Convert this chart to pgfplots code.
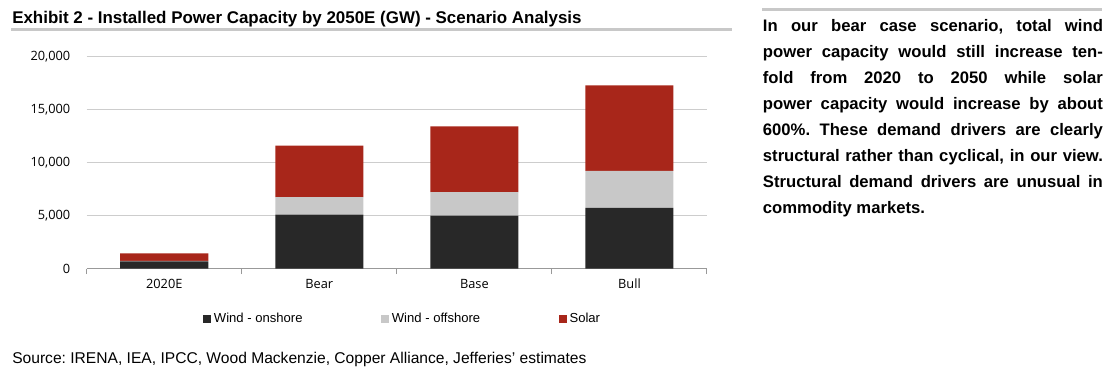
\documentclass[border=0pt]{standalone}
\usepackage{pgfplots}
\pgfplotsset{compat=1.18}
\usepackage{fontspec}
\setmainfont{Liberation Sans}
\newfontfamily\tickfont{Open Sans}
\definecolor{onshore}{RGB}{40,40,40}
\definecolor{offshore}{RGB}{200,200,200}
\definecolor{solar}{RGB}{168,38,26}
\definecolor{rulegray}{RGB}{200,200,200}
\definecolor{gridgray}{RGB}{205,205,205}
\frenchspacing
\begin{document}
\begin{tikzpicture}
\path[use as bounding box] (0,0) rectangle (832.5pt,-277.5pt);
% title
\node[anchor=base west, inner sep=0pt, font=\bfseries\fontsize{12.7}{14}\selectfont] at (9pt,-17.5pt) {Exhibit 2 - Installed Power Capacity by 2050E (GW) - Scenario Analysis};
\draw[rulegray, line width=2.25pt] (8.25pt,-22.5pt) -- (549pt,-22.5pt);
% right text
\draw[rulegray, line width=2.25pt] (571.5pt,-7.5pt) -- (826.5pt,-7.5pt);
\begin{scope}[every node/.style={anchor=base west, inner sep=0pt, font=\bfseries\fontsize{12.5}{14}\selectfont}]
\node at (572pt,-23.8pt) {\makebox[255pt][s]{In our bear case scenario, total wind}};
\node at (572pt,-43.23pt) {\makebox[255pt][s]{power capacity would still increase ten-}};
\node at (572pt,-62.66pt) {\makebox[255pt][s]{fold from 2020 to 2050 while solar}};
\node at (572pt,-82.09pt) {\makebox[255pt][s]{power capacity would increase by about}};
\node at (572pt,-101.52pt) {\makebox[255pt][s]{600\%. These demand drivers are clearly}};
\node at (572pt,-120.95pt) {\makebox[255pt][s]{structural rather than cyclical, in our view.}};
\node at (572pt,-140.38pt) {\makebox[255pt][s]{Structural demand drivers are unusual in}};
\node at (572pt,-159.81pt) {commodity markets.};
\end{scope}
% source
\node[anchor=base west, inner sep=0pt, font=\fontsize{11.7}{13}\selectfont] at (9pt,-272.25pt) {Source: IRENA, IEA, IPCC, Wood Mackenzie, Copper Alliance, Jefferies' estimates};
\begin{axis}[
  at={(65.03pt,-201.53pt)}, anchor=south west,
  scale only axis, width=465.2pt, height=159pt,
  ybar stacked, bar width=0.568,
  xmin=-0.5, xmax=3.5, ymin=0, ymax=20000,
  xtick={0,1,2,3}, xticklabels={2020E,Bear,Base,Bull},
  minor xtick={-0.5,0.5,1.5,2.5,3.5},
  ytick={0,5000,10000,15000,20000},
  ymajorgrids, grid style={gridgray, line width=0.75pt},
  axis x line*=bottom, axis y line*=left,
  y axis line style={draw=none},
  x axis line style={gray!80, line width=0.75pt},
  ytick style={draw=none},
  major x tick style={draw=none},
  minor x tick style={gray!80, line width=0.75pt},
  minor tick length=4pt, tick align=outside,
  /pgf/number format/assume math mode=true,
  /pgf/number format/1000 sep={,},
  scaled y ticks=false,
  tick label style={font=\tickfont\fontsize{9.6}{11}\selectfont, text=black},
  yticklabel style={xshift=-4.5pt},
  xticklabel style={yshift=0pt},
  legend columns=3,
  legend style={at={(0.51,-0.237)}, anchor=center, draw=none, fill=none,
     font=\fontsize{9.8}{11}\selectfont, inner sep=0pt,
     /tikz/every even column/.append style={column sep=57pt}},
  legend cell align=left,
  legend image code/.code={\path[#1, draw=none] (0pt,-3pt) rectangle (6pt,3pt);},
]
\addplot[fill=onshore, draw=none] coordinates {(0,700) (1,5100) (2,5000) (3,5730)};
\addplot[fill=offshore, draw=none] coordinates {(0,40) (1,1650) (2,2230) (3,3490)};
\addplot[fill=solar, draw=none] coordinates {(0,710) (1,4850) (2,6200) (3,8080)};
\legend{Wind - onshore, Wind - offshore, Solar}
\end{axis}
\end{tikzpicture}
\end{document}
